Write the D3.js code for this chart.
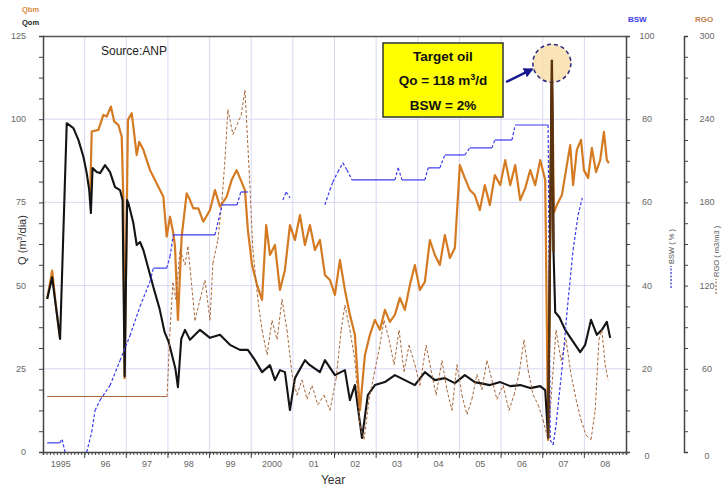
<!DOCTYPE html>
<html><head><meta charset="utf-8">
<script src="https://cdn.jsdelivr.net/npm/d3@7"></script>
<style>body{margin:0;background:#fff}svg{display:block}text{font-family:"Liberation Sans",Arial,sans-serif}</style>
</head><body>
<svg id="c" width="726" height="489"></svg>
<script>
// ---------------- data ----------------
const yearTicks = [1995,1996,1997,1998,1999,2000,2001,2002,2003,2004,2005,2006,2007,2008];
const yearLabels = ["1995","96","97","98","99","2000","01","02","03","04","05","06","07","08"];
const qTicks = [0,25,50,75,100,125];
const bswTicks = [0,20,40,60,80,100];
const rgoTicks = [0,60,120,180,240,300];

// Qom (black) [year, m3/d]
const qom = [[1995.10,46],[1995.22,52.5],[1995.41,34],[1995.57,98.8],[1995.73,97.3],[1995.85,93.8],[1995.97,88.7],[1996.05,83.8],[1996.11,78.7],[1996.15,71.8],[1996.19,85.3],[1996.29,84.1],[1996.37,83.8],[1996.49,86.2],[1996.61,84.1],[1996.73,79.6],[1996.85,78.7],[1996.91,75.7],[1996.96,22.8],[1997.02,75.7],[1997.05,74.8],[1997.17,68.8],[1997.25,62.2],[1997.33,63.1],[1997.41,60.7],[1997.65,49.6],[1997.80,43],[1997.92,36],[1998.02,33],[1998.10,29],[1998.18,25],[1998.24,19.5],[1998.32,34],[1998.41,36.7],[1998.53,33.7],[1998.77,36.7],[1999.01,34.3],[1999.25,35.2],[1999.49,32.2],[1999.73,30.7],[1999.92,30.7],[2000.09,27.6],[2000.26,24.0],[2000.45,26.1],[2000.57,21.6],[2000.69,24.6],[2000.81,24.0],[2000.93,12.6],[2001.05,22.2],[2001.29,27.6],[2001.41,26.1],[2001.65,24.0],[2001.77,27.6],[2002.01,23.1],[2002.25,24.6],[2002.37,15.6],[2002.49,20.1],[2002.66,4.2],[2002.80,17.1],[2002.97,20.1],[2003.21,21.0],[2003.45,23.1],[2003.69,21.6],[2003.93,20.1],[2004.17,24.0],[2004.41,21.6],[2004.65,22.2],[2004.89,20.7],[2005.13,23.1],[2005.37,21.0],[2005.73,20.1],[2005.98,21.0],[2006.22,19.8],[2006.46,20.1],[2006.70,19.2],[2006.94,19.8],[2007.06,18.6],[2007.13,4.2],[2007.22,117.8],[2007.26,60],[2007.30,42],[2007.40,40.5],[2007.54,36.7],[2007.70,33.7],[2007.90,30.0],[2008.02,32.2],[2008.16,39.7],[2008.30,35.2],[2008.42,36.7],[2008.54,39.1],[2008.62,34.3]];

// Qbm (orange) [year, m3/d]  (null = gap)
const qbm = [[1995.10,46],[1995.22,54.5],[1995.30,45],[1995.41,34],null,[1996.13,75.7],[1996.17,96.3],[1996.33,96.8],[1996.45,101.3],[1996.53,100.8],[1996.63,103.8],[1996.71,99.3],[1996.81,98.3],[1996.89,94.8],[1996.93,75.7],[1996.96,22.2],[1997.02,80],[1997.04,99.8],[1997.13,101.8],[1997.17,97.8],[1997.25,89.2],[1997.31,93.2],[1997.41,90.8],[1997.57,84.7],[1997.77,79.7],[1997.89,76.7],[1997.97,64.7],[1998.05,70.7],[1998.13,65.7],[1998.17,61.7],[1998.24,39.7],[1998.33,64.7],[1998.45,77.7],[1998.53,75.7],[1998.61,73.2],[1998.73,73.2],[1998.85,69.2],[1999.01,72.7],[1999.13,78.7],[1999.25,73.7],[1999.41,76.7],[1999.53,81.7],[1999.65,84.7],[1999.73,82.3],[1999.85,78.7],[1999.92,66.7],[2000.02,56.2],[2000.14,50.2],[2000.26,45.7],[2000.36,68.2],[2000.45,59.2],[2000.57,62.2],[2000.69,48.7],[2000.81,54.7],[2000.93,68.2],[2001.05,63.7],[2001.17,71.2],[2001.29,62.2],[2001.41,68.2],[2001.53,60.7],[2001.65,63.7],[2001.77,53.2],[2001.89,51.7],[2002.01,47.2],[2002.13,57.7],[2002.25,48.7],[2002.37,41.2],[2002.49,35.2],[2002.61,12.6],[2002.73,29.1],[2002.85,35.2],[2002.97,39.7],[2003.09,36.7],[2003.21,42.7],[2003.33,39.1],[2003.45,41.2],[2003.57,46.3],[2003.69,42.7],[2003.81,50.2],[2003.93,56.2],[2004.05,48.7],[2004.17,51.1],[2004.29,63.7],[2004.41,59.2],[2004.53,56.2],[2004.65,65.2],[2004.77,58.3],[2004.89,61.3],[2005.01,86.2],[2005.13,82.3],[2005.25,78.7],[2005.37,77.2],[2005.49,72.7],[2005.61,80.2],[2005.73,74.2],[2005.85,83.2],[2005.98,80.2],[2006.10,87.7],[2006.22,80.2],[2006.34,86.2],[2006.46,75.7],[2006.58,79.3],[2006.70,84.7],[2006.82,80.2],[2006.94,87.7],[2007.06,81.7],[2007.13,3.6],[2007.22,117.8],[2007.27,72],[2007.34,74.2],[2007.46,77.2],[2007.56,84.7],[2007.66,92.2],[2007.73,80.2],[2007.82,90.8],[2007.92,93.8],[2007.99,84.7],[2008.09,82.3],[2008.18,91.4],[2008.28,84.1],[2008.38,87.7],[2008.47,96.2],[2008.54,87.7],[2008.59,86.8]];

// BSW (blue) [year, %]
const bsw = [[1995.10,2.2],[1995.40,2.2],[1995.46,3.0],[1995.53,0],null,[1996.05,0],[1996.17,4.8],[1996.25,10],[1996.37,12.5],[1996.61,16],[1996.85,22],[1997.09,28],[1997.33,35],[1997.57,41],[1997.65,44.2],[1997.97,44.2],[1998.05,47],[1998.13,52.2],[1999.13,52.2],[1999.30,59.4],[1999.66,59.4],[1999.75,62.5],[1999.92,62.5],null,[2000.76,60.6],[2000.84,62.5],[2000.93,61.1],null,[2001.77,59.4],[2001.89,63.0],[2001.96,64.9],[2002.08,67.3],[2002.20,69.5],[2002.30,67.8],[2002.42,65.4],[2003.45,65.4],[2003.53,68.3],[2003.62,65.4],[2004.17,65.4],[2004.25,68.3],[2004.53,68.3],[2004.65,71.4],[2005.13,71.4],[2005.25,73.1],[2005.78,73.1],[2005.85,75.0],[2006.26,75.0],[2006.34,78.6],[2007.13,78.6],[2007.18,2.9],[2007.25,1.7],[2007.32,6.5],[2007.46,19.7],[2007.61,36.5],[2007.73,48.6],[2007.85,57.0],[2007.95,61.1]];

// RGO (brown) [year, m3/m3]
const rgo = [[1995.10,40],[1997.98,40],[1998.05,88],[1998.12,122],[1998.19,110],[1998.29,146],[1998.41,135],[1998.48,148],[1998.53,133],[1998.65,95],[1998.77,110],[1998.89,124],[1999.01,95],[1999.08,136],[1999.20,153],[1999.30,182],[1999.37,211],[1999.44,247],[1999.56,229],[1999.66,236],[1999.76,243],[1999.85,261],[1999.95,203],[2000.04,146],[2000.16,110],[2000.26,88],[2000.38,70],[2000.50,95],[2000.62,81],[2000.74,110],[2000.86,88],[2000.98,56],[2001.10,41],[2001.22,52],[2001.34,38],[2001.46,48],[2001.60,34],[2001.75,41],[2001.89,30],[2002.04,53],[2002.16,88],[2002.25,106],[2002.37,88],[2002.49,66],[2002.61,19],[2002.71,9],[2002.83,38],[2002.95,56],[2003.07,74],[2003.19,95],[2003.31,81],[2003.43,63],[2003.55,88],[2003.67,58],[2003.79,77],[2003.93,63],[2004.05,48],[2004.20,77],[2004.32,59],[2004.44,41],[2004.58,66],[2004.70,45],[2004.82,30],[2004.94,63],[2005.06,41],[2005.18,27],[2005.30,38],[2005.42,56],[2005.54,45],[2005.66,66],[2005.78,52],[2005.90,38],[2006.05,48],[2006.19,30],[2006.31,41],[2006.43,56],[2006.55,81],[2006.65,59],[2006.77,41],[2006.89,34],[2007.01,23],[2007.13,9],[2007.32,88],[2007.44,66],[2007.56,81],[2007.68,56],[2007.80,38],[2007.92,23],[2008.04,12],[2008.16,9],[2008.26,30],[2008.35,81],[2008.42,88],[2008.50,63],[2008.57,52]];

const target = {year: 2007.22, q: 118};

// ---------------- drawing ----------------
const svg = d3.select("#c");
const L = 43, R = 626, T = 36, B = 452;
const x = d3.scaleLinear().domain([1995, 2009]).range([L, R]);
const yQ = d3.scaleLinear().domain([0, 125]).range([B, T]);
const yB = d3.scaleLinear().domain([0, 100]).range([B, T]);
const yR = d3.scaleLinear().domain([0, 300]).range([B, T]);

const gridC = "#d8d8f4";
// grid
svg.append("g").selectAll("line").data(qTicks.filter(d => d > 0 && d < 125)).join("line")
  .attr("x1", L).attr("x2", R).attr("y1", d => yQ(d)).attr("y2", d => yQ(d))
  .attr("stroke", gridC).attr("stroke-width", 1);
svg.append("g").selectAll("line").data(yearTicks.slice(1)).join("line")
  .attr("x1", d => x(d)).attr("x2", d => x(d)).attr("y1", T).attr("y2", B)
  .attr("stroke", gridC).attr("stroke-width", 1);

// frame top
svg.append("line").attr("x1", L).attr("x2", R).attr("y1", T + 0.5).attr("y2", T + 0.5)
  .attr("stroke", "#555").attr("stroke-width", 1.3);

const tickC = "#444", labC = "#666";
// left axis
const gl = svg.append("g").attr("transform", `translate(${L},0)`)
  .call(d3.axisLeft(yQ).tickValues(d3.range(0, 125.01, 6.25)).tickSize(4).tickFormat(""));
gl.call(g => { g.select(".domain").attr("stroke", tickC).attr("stroke-width", 1.5); g.selectAll(".tick line").attr("stroke", tickC); });
svg.append("g").selectAll("text").data(qTicks).join("text")
  .attr("x", 26).attr("y", d => yQ(d) + 3).attr("text-anchor", "end")
  .attr("font-size", 9).attr("fill", labC).text(d => d);
svg.append("text").attr("transform", `translate(26,240) rotate(-90)`).attr("text-anchor", "middle")
  .attr("font-size", 11).attr("fill", "#333").html('Q (m<tspan dy="-4" font-size="7">3</tspan><tspan dy="4">/dia)</tspan>');

// bottom axis
const gb = svg.append("g").attr("transform", `translate(0,${B})`)
  .call(d3.axisBottom(x).tickValues(d3.range(0, 14 * 12 + 1).map(i => 1995 + i / 12)).tickSize(3).tickFormat(""));
gb.call(g => { g.select(".domain").attr("stroke", tickC).attr("stroke-width", 1.5); g.selectAll(".tick line").attr("stroke", tickC); });
svg.append("g").selectAll("line").data(yearTicks.slice(1)).join("line")
  .attr("x1", d => x(d)).attr("x2", d => x(d)).attr("y1", B).attr("y2", B + 6).attr("stroke", tickC);
svg.append("g").selectAll("text").data(yearTicks).join("text")
  .attr("x", d => x(d + 0.5) - (d === 1995 ? 3 : 0)).attr("y", B + 15).attr("text-anchor", "middle")
  .attr("font-size", 9).attr("fill", labC).text((d, i) => yearLabels[i]);
svg.append("text").attr("x", 333).attr("y", 484).attr("text-anchor", "middle")
  .attr("font-size", 12).attr("fill", "#333").text("Year");

// BSW right axis
const gr = svg.append("g").attr("transform", `translate(${R},0)`)
  .call(d3.axisRight(yB).tickValues(d3.range(0, 100.01, 5)).tickSize(4).tickFormat(""));
gr.call(g => { g.select(".domain").attr("stroke", tickC).attr("stroke-width", 1.5); g.selectAll(".tick line").attr("stroke", tickC); });
svg.append("g").selectAll("text").data(bswTicks).join("text")
  .attr("x", 647).attr("y", d => yB(d) + 3 + (d === 0 ? 4 : 0)).attr("text-anchor", "middle")
  .attr("font-size", 9).attr("fill", labC).text(d => d);
// RGO axis
const RX = 684;
const gg = svg.append("g").attr("transform", `translate(${RX},0)`)
  .call(d3.axisRight(yR).tickValues(d3.range(0, 300.01, 15)).tickSize(4).tickFormat(""));
gg.call(g => { g.select(".domain").attr("stroke", tickC).attr("stroke-width", 1.5); g.selectAll(".tick line").attr("stroke", tickC); });
svg.append("g").selectAll("text").data(rgoTicks).join("text")
  .attr("x", 707).attr("y", d => yR(d) + 3 + (d === 0 ? 4 : 0)).attr("text-anchor", "middle")
  .attr("font-size", 9).attr("fill", labC).text(d => d);

// axis titles on right
const bt = svg.append("g").attr("transform", "translate(674,264) rotate(-90)");
bt.append("line").attr("x1", -24).attr("x2", -2).attr("y1", -3).attr("y2", -3)
  .attr("stroke", "#2828c8").attr("stroke-dasharray", "2,1.5").attr("stroke-width", 1.2);
bt.append("text").attr("x", 0).attr("y", 0).attr("font-size", 7.5).attr("fill", "#555").text("BSW ( % )");
const rt = svg.append("g").attr("transform", "translate(719,278) rotate(-90)");
rt.append("line").attr("x1", -16).attr("x2", -1).attr("y1", -3).attr("y2", -3)
  .attr("stroke", "#a06a40").attr("stroke-dasharray", "2,1.5").attr("stroke-width", 1.2);
rt.append("text").attr("x", 1).attr("y", 0).attr("font-size", 7.5).attr("fill", "#555").text("RGO ( m3/m3 )");

// legend texts
svg.append("text").attr("x", 22).attr("y", 12).attr("font-size", 7.5).attr("font-weight", "bold").attr("fill", "#d98a3a").text("Qbm");
svg.append("text").attr("x", 22).attr("y", 25).attr("font-size", 7.5).attr("font-weight", "bold").attr("fill", "#222").text("Qom");
svg.append("text").attr("x", 628).attr("y", 22).attr("font-size", 8).attr("font-weight", "bold").attr("fill", "#3c3ce6").text("BSW");
svg.append("text").attr("x", 695).attr("y", 22).attr("font-size", 8).attr("font-weight", "bold").attr("fill", "#c8804a").text("RGO");
svg.append("text").attr("x", 101).attr("y", 55).attr("font-size", 12).attr("fill", "#222").text("Source:ANP");

// series
const lineQ = d3.line().defined(d => d).x(d => x(d[0])).y(d => yQ(d[1]));
svg.append("path").attr("d", lineQ(qbm)).attr("fill", "none").attr("stroke", "#d47a22")
  .attr("stroke-width", 2.2).attr("stroke-linejoin", "round");
svg.append("path").attr("d", lineQ(qom)).attr("fill", "none").attr("stroke", "#141414")
  .attr("stroke-width", 2.1).attr("stroke-linejoin", "round");

function segs(data, ys, color, w, g) {
  for (let i = 1; i < data.length; i++) {
    const a = data[i - 1], b = data[i];
    if (!a || !b) continue;
    g.append("line").attr("x1", x(a[0])).attr("y1", ys(a[1])).attr("x2", x(b[0])).attr("y2", ys(b[1]))
      .attr("stroke", color).attr("stroke-width", w)
      .attr("stroke-dasharray", a[1] === b[1] ? null : "3,2");
  }
}
segs(rgo, yR, "#a8683a", 1, svg.append("g"));
segs(bsw, yB, "#3a3aee", 1.2, svg.append("g"));

// annotation
const cx = x(target.year), cy = yQ(target.q);
svg.append("circle").attr("cx", cx).attr("cy", cy + 4).attr("r", 19)
  .attr("fill", "#f9d9a0").attr("fill-opacity", 0.75)
  .attr("stroke", "#2a2a80").attr("stroke-width", 1.5).attr("stroke-dasharray", "4,3");
// redraw spike on top of circle
const spike = qom.filter(d => d[0] >= 2007.13 && d[0] <= 2007.26);
svg.append("path").attr("d", lineQ(spike)).attr("fill", "none").attr("stroke", "#5a3310").attr("stroke-width", 2.3);

svg.append("defs").append("marker").attr("id", "ah").attr("viewBox", "0 0 10 10").attr("refX", 8).attr("refY", 5)
  .attr("markerWidth", 4).attr("markerHeight", 4).attr("orient", "auto")
  .append("path").attr("d", "M0,0L10,5L0,10z").attr("fill", "#1a1a90");
svg.append("line").attr("x1", 506).attr("y1", 82).attr("x2", cx - 20).attr("y2", cy + 10)
  .attr("stroke", "#1a1a90").attr("stroke-width", 2.5).attr("marker-end", "url(#ah)");

svg.append("rect").attr("x", 383).attr("y", 43).attr("width", 120).attr("height", 74)
  .attr("fill", "#ffff00").attr("stroke", "#333").attr("stroke-width", 1.5);
const ann = svg.append("g").attr("font-weight", "bold").attr("font-size", 13.5).attr("text-anchor", "middle").attr("fill", "#111");
ann.append("text").attr("x", 443).attr("y", 61).text("Target oil");
ann.append("text").attr("x", 443).attr("y", 85).html('Qo = 118 m<tspan dy="-5" font-size="9">3</tspan><tspan dy="5">/d</tspan>');
ann.append("text").attr("x", 443).attr("y", 110).text("BSW = 2%");
</script>
</body></html>
